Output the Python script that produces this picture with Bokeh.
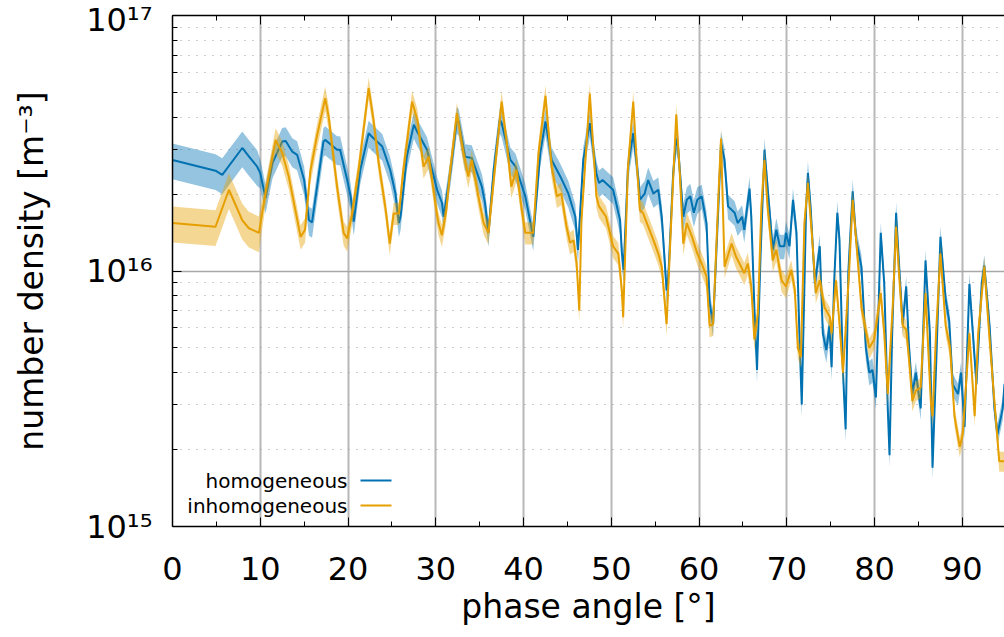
import numpy as np
from bokeh.plotting import figure
from bokeh.models import (Range1d, FixedTicker, LinearAxis, CustomJSTickFormatter,
                          Label, BoxAnnotation)
from bokeh.embed import file_html
from bokeh.resources import INLINE

# ---------------- data (number density in units of 1e16 m^-3) ----------------
hom_x = [0.0, 4.9, 5.67, 7.95, 8.7, 9.65, 10.0, 10.6, 11.4, 12.5,
         12.9, 13.65, 14.2, 15.0, 15.55, 15.9, 17.2, 17.4, 18.75, 19.1,
         19.9, 20.3, 20.65, 21.4, 22.35, 22.7, 23.9, 24.8, 25.4, 25.8,
         26.0, 26.7, 27.5, 27.9, 29.0, 30.15, 30.7, 30.9, 31.7, 32.4,
         32.6, 33.35, 34.1, 35.25, 35.6, 36.0, 36.6, 37.3, 37.5, 38.5,
         39.1, 40.2, 41.1, 41.9, 42.5, 43.2, 44.2, 45.1, 45.9, 46.2,
         46.8, 47.55, 48.3, 48.6, 49.0, 50.2, 51.0, 51.2, 51.4, 51.9,
         52.5, 53.1, 53.25, 53.8, 54.2, 54.8, 55.35, 55.75, 56.3, 56.5,
         57.05, 57.4, 57.6, 58.2, 58.6, 59.0, 59.4, 59.8, 60.3, 60.85,
         61.2, 61.6, 62.2, 62.5, 62.9, 63.3, 64.05, 64.4, 64.9, 65.15,
         65.75, 65.95, 66.3, 66.6, 67.0, 67.45, 67.8, 68.4, 68.8, 69.2,
         69.7, 69.9, 70.3, 70.7, 71.1, 71.45, 71.7, 72.2, 72.4, 72.7,
         73.2, 73.75, 74.1, 74.5, 74.85, 75.1, 75.4, 75.75, 76.0, 76.4,
         76.7, 77.0, 77.5, 77.9, 78.5, 79.0, 79.4, 79.75, 80.15, 80.7,
         81.1, 81.5, 81.7, 82.0, 82.45, 82.8, 83.2, 83.6, 83.9, 84.3,
         84.7, 85.25, 85.8, 86.3, 86.6, 87.0, 87.5, 88.1, 88.5, 88.9,
         89.5, 89.85, 90.25, 90.8, 91.2, 91.6, 92.2, 92.5, 93.1, 93.65,
         94.0, 94.6, 94.8]
hom_val = [2.72, 2.47, 2.38, 3.03, 2.81, 2.56, 2.42, 1.93, 2.65, 3.21,
           3.23, 2.93, 2.85, 2.27, 1.58, 1.55, 3.21, 3.26, 2.98, 2.98,
           2.27, 1.96, 1.56, 2.49, 3.46, 3.36, 3.07, 2.49, 2.01, 1.54,
           1.65, 2.81, 3.74, 3.50, 2.98, 2.08, 1.85, 1.63, 2.49, 3.91,
           3.85, 2.80, 2.77, 2.14, 1.85, 1.41, 2.49, 3.91, 3.80, 2.72,
           2.56, 1.96, 1.36, 2.90, 3.85, 2.72, 2.34, 2.01, 1.63, 1.21,
           2.72, 3.79, 2.41, 2.21, 2.27, 2.08, 1.58, 1.18, 1.01, 2.56,
           3.46, 2.27, 1.90, 2.01, 2.27, 2.01, 2.08, 1.63, 0.84, 0.95,
           2.42, 3.30, 3.07, 1.63, 1.90, 1.96, 1.69, 1.90, 1.96, 1.54,
           0.75, 0.62, 1.79, 3.17, 2.72, 1.79, 1.69, 1.54, 1.63, 1.45,
           2.10, 1.63, 0.72, 0.41, 1.14, 2.98, 2.14, 1.21, 1.45, 1.25,
           1.25, 1.41, 1.25, 1.90, 1.41, 0.54, 0.30, 1.79, 2.42, 1.79,
           0.89, 1.25, 0.57, 0.49, 0.61, 0.42, 0.92, 1.69, 1.32, 0.40,
           0.24, 0.98, 2.05, 1.32, 1.04, 0.50, 0.40, 0.41, 0.32, 1.41,
           0.89, 0.29, 0.19, 0.57, 1.69, 1.04, 0.62, 0.87, 0.52, 0.33,
           0.40, 0.29, 1.10, 0.57, 0.17, 0.42, 1.36, 0.77, 0.64, 0.36,
           0.33, 0.40, 0.245, 0.89, 0.57, 0.36, 0.89, 1.05, 0.61, 0.29,
           0.23, 0.29, 0.36]

inh_x = [0.0, 4.9, 6.43, 7.95, 8.7, 9.85, 10.6, 11.75, 12.5, 13.25,
         14.0, 14.6, 15.1, 15.7, 16.45, 17.4, 17.8, 18.75, 19.5, 19.9,
         20.4, 21.2, 22.35, 22.9, 23.5, 24.3, 24.75, 25.2, 25.8, 26.3,
         27.3, 27.9, 28.6, 29.2, 29.95, 30.3, 30.7, 31.2, 31.6, 32.4,
         33.15, 33.7, 34.1, 34.85, 35.45, 36.0, 36.95, 37.5, 38.1, 38.6,
         39.2, 39.8, 40.2, 41.1, 41.7, 42.5, 43.2, 43.8, 44.3, 44.9,
         45.3, 45.7, 46.05, 46.35, 46.6, 47.55, 48.3, 48.6, 49.4, 50.2,
         50.8, 51.2, 51.35, 51.9, 52.5, 52.9, 53.25, 53.6, 54.8, 55.35,
         55.75, 56.3, 56.9, 57.4, 57.8, 58.2, 58.6, 59.2, 59.8, 60.3,
         60.85, 61.2, 61.6, 62.2, 62.5, 62.9, 63.7, 64.2, 64.6, 65.15,
         65.55, 65.95, 66.3, 66.7, 67.1, 67.45, 67.8, 68.4, 68.8, 69.4,
         69.9, 70.5, 70.9, 71.25, 71.6, 72.0, 72.4, 72.9, 73.3, 73.75,
         74.3, 74.9, 75.1, 75.6, 76.0, 76.4, 77.1, 77.5, 77.9, 78.5,
         78.9, 79.4, 79.95, 80.3, 80.7, 81.1, 81.5, 82.1, 82.45, 82.8,
         83.2, 83.6, 83.9, 84.3, 84.7, 85.25, 85.8, 86.4, 86.6, 87.0,
         87.5, 88.1, 88.6, 89.1, 89.7, 90.05, 90.8, 91.4, 91.8, 92.5,
         93.1, 93.65, 94.2, 94.8]
inh_val = [1.54, 1.49, 2.08, 1.58, 1.47, 1.41, 2.02, 3.26, 2.90, 2.34,
           1.73, 1.36, 1.45, 2.45, 3.36, 4.75, 4.00, 2.14, 1.41, 1.34,
           1.63, 2.49, 5.20, 3.91, 2.64, 1.73, 1.28, 1.68, 1.68, 2.49,
           4.60, 3.91, 2.56, 2.80, 1.84, 1.54, 1.38, 1.73, 2.40, 4.15,
           2.90, 2.34, 2.72, 1.96, 1.54, 1.41, 2.98, 4.60, 3.16, 2.14,
           2.49, 1.73, 1.41, 1.41, 2.89, 4.85, 2.56, 1.96, 2.01, 1.49,
           1.29, 1.32, 1.07, 0.70, 1.58, 4.95, 1.96, 1.79, 1.63, 1.25,
           1.17, 0.84, 0.66, 2.56, 4.60, 2.64, 1.73, 1.69, 1.32, 1.17,
           1.04, 0.62, 1.79, 4.10, 2.41, 1.28, 1.54, 1.36, 1.17, 1.07,
           0.95, 0.61, 0.62, 1.96, 3.30, 1.04, 1.28, 1.14, 1.07, 0.98,
           1.07, 0.87, 0.54, 0.68, 1.79, 2.72, 1.79, 1.10, 1.21, 0.92,
           0.87, 1.01, 0.85, 0.50, 0.46, 1.54, 2.21, 1.32, 0.82, 0.92,
           0.72, 0.66, 0.57, 0.92, 0.62, 0.40, 1.00, 1.90, 1.32, 0.72,
           0.61, 0.50, 0.54, 0.66, 0.82, 0.57, 0.33, 0.77, 1.49, 0.95,
           0.61, 0.59, 0.46, 0.31, 0.34, 0.35, 0.82, 0.31, 0.27, 0.57,
           1.17, 0.61, 0.50, 0.27, 0.205, 0.23, 0.57, 0.27, 0.57, 1.04,
           0.54, 0.31, 0.18, 0.18]

# relative half-width of the shaded uncertainty band, per 10-degree bin
hom_err = [0.16, 0.13, 0.12, 0.12, 0.12, 0.12, 0.11, 0.11, 0.10, 0.10]
inh_err = [0.16, 0.11, 0.10, 0.10, 0.10, 0.10, 0.10, 0.09, 0.09, 0.09]

series_names = ["homogeneous", "inhomogeneous"]
x_ticks = [0, 10, 20, 30, 40, 50, 60, 70, 80, 90]
x_minor = [5, 15, 25, 35, 45, 55, 65, 75, 85, 95]
y_decades = [15, 16, 17]

UNIT = 1e16
BLUE = "#0072B2"
ORANGE = "#E69F00"
FONT = "DejaVu Sans"


def band(xs, vals, errs):
    x = np.asarray(xs)
    v = np.asarray(vals) * UNIT
    e = np.asarray(errs)[np.minimum((x // 10).astype(int), len(errs) - 1)]
    return x, v, v * (1 - e), v * (1 + e)


p = figure(width=1004, height=637, x_range=Range1d(0, 94.8),
           y_range=Range1d(1e15, 1e17), y_axis_type="log",
           output_backend="svg", toolbar_location=None,
           min_border_left=172, min_border_right=0, min_border_top=15,
           min_border_bottom=111, outline_line_color=None,
           background_fill_color="white", border_fill_color="white")

y_major = [10.0 ** d for d in y_decades]
y_minor = [k * 10.0 ** d for d in y_decades[:-1] for k in range(2, 10)]

# axes
xa = p.xaxis[0]
xa.ticker = FixedTicker(ticks=x_ticks, minor_ticks=x_minor)
ya = p.yaxis[0]
ya.ticker = FixedTicker(ticks=y_major, minor_ticks=y_minor)
ya.formatter = CustomJSTickFormatter(code="""
const sup = {'0':'\u2070','1':'\u00b9','2':'\u00b2','3':'\u00b3','4':'\u2074',
             '5':'\u2075','6':'\u2076','7':'\u2077','8':'\u2078','9':'\u2079','-':'\u207b'};
const e = Math.round(Math.log10(tick));
return '10' + String(e).split('').map(c => sup[c]).join('');
""")
for ax in (xa, ya):
    ax.major_tick_in = 9
    ax.major_tick_out = 0
    ax.minor_tick_in = 5
    ax.minor_tick_out = 0
    ax.axis_line_color = "black"
    ax.axis_line_width = 1.5
    ax.major_tick_line_color = "black"
    ax.minor_tick_line_color = "black"
    ax.major_label_text_font = FONT
    ax.major_label_text_font_size = "32px"
    ax.major_label_text_color = "black"
    ax.axis_label_text_font = FONT
    ax.axis_label_text_font_size = "33px"
    ax.axis_label_text_font_style = "normal"
    ax.axis_label_text_color = "black"

xa.axis_label = "phase angle [°]"
xa.major_label_standoff = 30
xa.axis_label_standoff = 4
ya.axis_label = "number density [m⁻³]"
ya.major_label_standoff = 20
ya.axis_label_standoff = 32

# top frame edge with mirrored ticks, no labels
top = LinearAxis(ticker=FixedTicker(ticks=x_ticks, minor_ticks=x_minor),
                 formatter=CustomJSTickFormatter(code="return ''"),
                 major_tick_in=9, major_tick_out=0, minor_tick_in=5, minor_tick_out=0,
                 major_label_text_font_size="10px", major_label_standoff=0,
                 axis_line_color="black", axis_line_width=1.5)
p.add_layout(top, "above")

# grid
p.xgrid.grid_line_color = "#b8b8b8"
p.xgrid.grid_line_width = 2
p.ygrid.grid_line_color = "#a8a8a8"
p.ygrid.grid_line_width = 1.5
p.ygrid.minor_grid_line_color = "#9a9a9a"
p.ygrid.minor_grid_line_dash = "1 7"
p.ygrid.minor_grid_line_width = 1.2

# data
hx, hv, hlo, hhi = band(hom_x, hom_val, hom_err)
ix, iv, ilo, ihi = band(inh_x, inh_val, inh_err)

p.varea(x=hx, y1=hlo, y2=hhi, fill_color=BLUE, fill_alpha=0.42)
p.line(hx, hv, line_color=BLUE, line_width=2)
p.varea(x=ix, y1=ilo, y2=ihi, fill_color=ORANGE, fill_alpha=0.42)
p.line(ix, iv, line_color=ORANGE, line_width=2)

# legend (gnuplot style: text right-aligned, sample to its right)
for i, (name, col) in enumerate(zip(series_names, [BLUE, ORANGE])):
    yy = 46 - 25 * i
    p.add_layout(Label(x=175, y=yy, x_units="screen", y_units="screen", text=name,
                       text_align="right", text_baseline="middle",
                       text_font=FONT, text_font_size="20px", text_color="black"))
    p.add_layout(BoxAnnotation(left=188, right=219, bottom=yy - 1, top=yy + 1,
                               left_units="screen", right_units="screen",
                               bottom_units="screen", top_units="screen",
                               fill_color=col, fill_alpha=1.0, line_color=None))

open("out.html", "w").write(file_html(p, INLINE))
